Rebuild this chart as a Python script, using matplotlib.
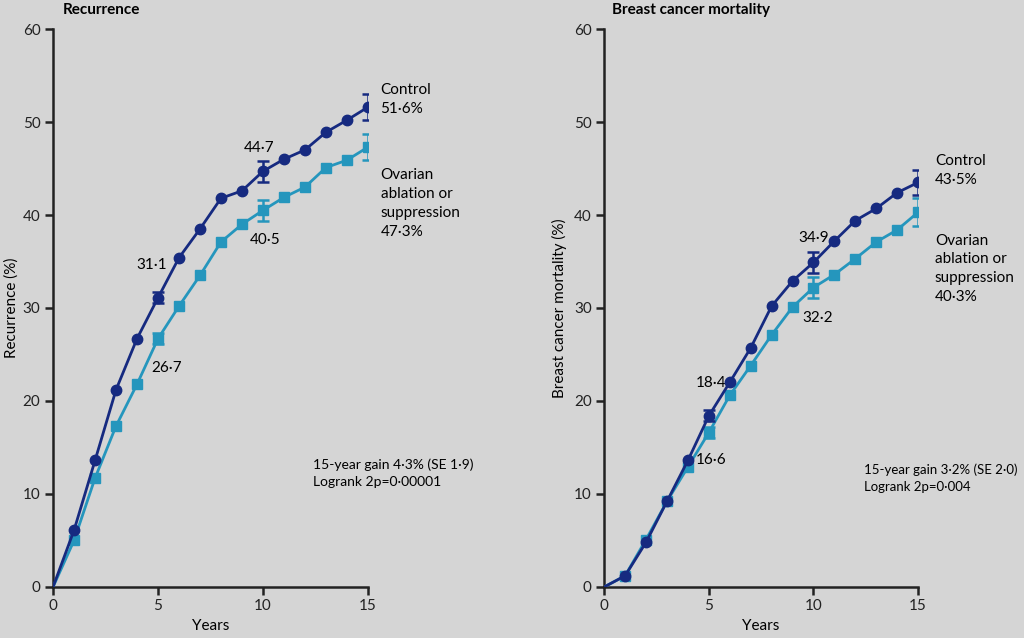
import matplotlib
matplotlib.use("Agg")
import matplotlib.pyplot as plt

plt.rcParams['font.family'] = ['Lato', 'DejaVu Sans']

# Data (percent at each year)
years = list(range(0, 16))

rec_control = [0, 6.1, 13.6, 21.2, 26.7, 31.1, 35.4, 38.5, 41.8, 42.6, 44.7,
               46.0, 47.0, 48.9, 50.2, 51.6]
rec_ovarian = [0, 5.0, 11.7, 17.3, 21.8, 26.7, 30.2, 33.5, 37.1, 39.0, 40.5,
               41.9, 43.0, 45.1, 45.9, 47.3]

mort_control = [0, 1.2, 4.8, 9.2, 13.6, 18.4, 22.0, 25.7, 30.2, 32.9, 34.9,
                37.2, 39.4, 40.7, 42.4, 43.5]
mort_ovarian = [0, 1.2, 5.1, 9.2, 12.9, 16.6, 20.6, 23.8, 27.1, 30.1, 32.2,
                33.6, 35.3, 37.1, 38.4, 40.3]

err_years = [5, 10, 15]
rec_control_se = [0.6, 1.1, 1.4]
rec_ovarian_se = [0.6, 1.1, 1.4]
mort_control_se = [0.6, 1.1, 1.3]
mort_ovarian_se = [0.6, 1.1, 1.5]

dark = '#162a80'
teal = '#2596bd'
bg = '#d5d5d5'

fig = plt.figure(figsize=(10.24, 6.38), dpi=100, facecolor=bg)
ax1 = fig.add_axes([0.0518, 0.080, 0.3075, 0.8745])
ax2 = fig.add_axes([0.590, 0.080, 0.3066, 0.8745])


def draw_panel(ax, ctrl, ovar, ctrl_se, ovar_se):
    ax.set_facecolor(bg)
    ax.plot(years, ovar, color=teal, lw=2, marker='s', ms=6.5, markevery=list(range(1, 16)), zorder=3)
    ax.plot(years, ctrl, color=dark, lw=2, marker='o', ms=7.5, markevery=list(range(1, 16)), zorder=4)
    ax.errorbar(err_years, [ovar[y] for y in err_years], yerr=ovar_se, fmt='none',
                ecolor=teal, elinewidth=1.8, capsize=4, capthick=1.8, zorder=3)
    ax.errorbar(err_years, [ctrl[y] for y in err_years], yerr=ctrl_se, fmt='none',
                ecolor=dark, elinewidth=1.8, capsize=4, capthick=1.8, zorder=4)
    ax.set_xlim(0, 15)
    ax.set_ylim(0, 60)
    ax.set_xticks([0, 5, 10, 15])
    ax.set_yticks([0, 10, 20, 30, 40, 50, 60])
    for s in ['top', 'right']:
        ax.spines[s].set_visible(False)
    for s in ['left', 'bottom']:
        ax.spines[s].set_linewidth(1.8)
        ax.spines[s].set_color('#222222')
    ax.tick_params(direction='out', length=6, width=1.8, labelsize=11, colors='#222222', pad=3)
    ax.set_xlabel('Years', fontsize=11, labelpad=4)


draw_panel(ax1, rec_control, rec_ovarian, rec_control_se, rec_ovarian_se)
draw_panel(ax2, mort_control, mort_ovarian, mort_control_se, mort_ovarian_se)

ax1.set_ylabel('Recurrence (%)', fontsize=11, labelpad=3)
ax2.set_ylabel('Breast cancer mortality (%)', fontsize=11, labelpad=5)

fig.text(0.061, 0.985, 'Recurrence', fontsize=11, fontweight='bold', va='center')
fig.text(0.598, 0.985, 'Breast cancer mortality', fontsize=11, fontweight='bold', va='center')

fs = 11
# Left panel annotations
ax1.text(4.7, 34.6, '31·1', fontsize=fs, ha='center', va='center')
ax1.text(9.8, 47.2, '44·7', fontsize=fs, ha='center', va='center')
ax1.text(5.4, 23.5, '26·7', fontsize=fs, ha='center', va='center')
ax1.text(10.1, 37.3, '40·5', fontsize=fs, ha='center', va='center')
ax1.text(15.6, 52.4, 'Control\n51·6%', fontsize=fs, ha='left', va='center', linespacing=1.45)
ax1.text(15.6, 41.2, 'Ovarian\nablation or\nsuppression\n47·3%', fontsize=fs, ha='left',
         va='center', linespacing=1.45)
ax1.text(12.4, 12.2, '15-year gain 4·3% (SE 1·9)\nLogrank 2p=0·00001', fontsize=10,
         ha='left', va='center', linespacing=1.5)

# Right panel annotations
ax2.text(5.1, 21.9, '18·4', fontsize=fs, ha='center', va='center')
ax2.text(5.1, 13.7, '16·6', fontsize=fs, ha='center', va='center')
ax2.text(10.0, 37.5, '34·9', fontsize=fs, ha='center', va='center')
ax2.text(10.2, 28.9, '32·2', fontsize=fs, ha='center', va='center')
ax2.text(15.8, 44.8, 'Control\n43·5%', fontsize=fs, ha='left', va='center', linespacing=1.45)
ax2.text(15.8, 34.2, 'Ovarian\nablation or\nsuppression\n40·3%', fontsize=fs, ha='left',
         va='center', linespacing=1.45)
ax2.text(12.4, 11.7, '15-year gain 3·2% (SE 2·0)\nLogrank 2p=0·004', fontsize=9.5,
         ha='left', va='center', linespacing=1.5)

fig.savefig('out.png', dpi=100, facecolor=bg)
